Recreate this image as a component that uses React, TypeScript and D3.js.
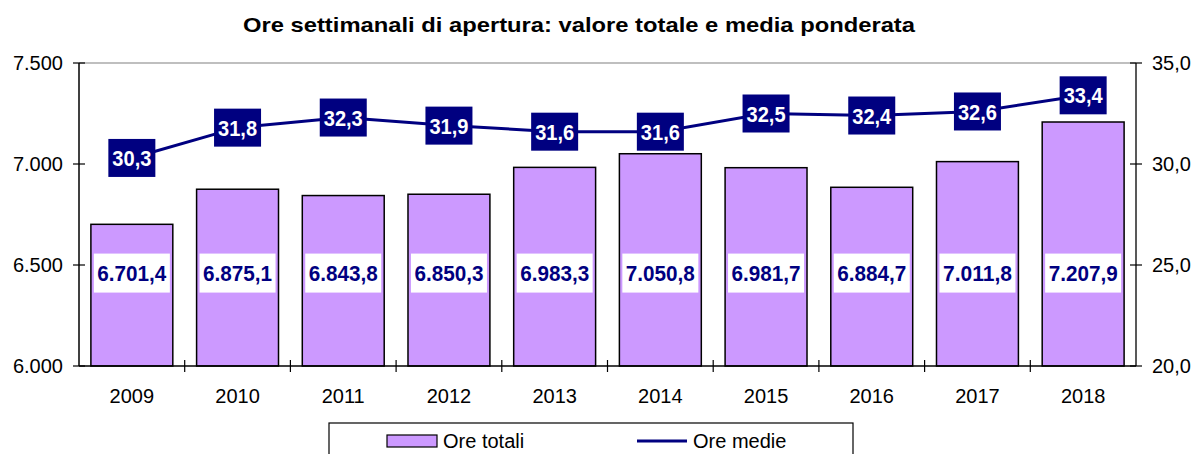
import React from "react";
import * as d3 from "d3";

const years = ["2009", "2010", "2011", "2012", "2013", "2014", "2015", "2016", "2017", "2018"];
const oreTotali = [6701.4, 6875.1, 6843.8, 6850.3, 6983.3, 7050.8, 6981.7, 6884.7, 7011.8, 7207.9];
const oreMedie = [30.3, 31.8, 32.3, 31.9, 31.6, 31.6, 32.5, 32.4, 32.6, 33.4];
const leftTicks = [6000, 6500, 7000, 7500];
const rightTicks = [20, 25, 30, 35];
const title = "Ore settimanali di apertura: valore totale e media ponderata";
const seriesNames = ["Ore totali", "Ore medie"];

const W = 1195;
const H = 454;
const M = { left: 79, right: 1136, top: 63, bottom: 366 };
const FONT = "'Liberation Sans', Arial, sans-serif";
const NAVY = "#000080";
const BAR = "#CC99FF";

const fmtIt = (v: number, dec: number) => {
  const s = v.toFixed(dec);
  const [i, d] = s.split(".");
  const ii = i.replace(/\B(?=(\d{3})+(?!\d))/g, ".");
  return d !== undefined ? `${ii},${d}` : ii;
};

export default function App() {
  const x = d3.scaleBand<string>().domain(years).range([M.left, M.right]).paddingInner(0.225).paddingOuter(0.1125);
  const xc = (y: string) => (x(y) as number) + x.bandwidth() / 2;
  const band = (M.right - M.left) / years.length;
  const yL = d3.scaleLinear().domain([6000, 7500]).range([M.bottom, M.top]);
  const yR = d3.scaleLinear().domain([20, 35]).range([M.bottom, M.top]);
  const line = d3
    .line<number>()
    .x((_, i) => xc(years[i]))
    .y((d) => yR(d));

  const labelValue = 6460;

  return (
    <svg width={W} height={H} style={{ position: "absolute", left: 0, top: 0, background: "#fff" }} fontFamily={FONT}>
      <text x={579} y={32} textAnchor="middle" fontSize={21} fontWeight="bold" textLength={672} lengthAdjust="spacingAndGlyphs">
        {title}
      </text>

      <line x1={M.left} x2={M.right} y1={M.top} y2={M.top} stroke="#808080" strokeWidth={1.2} />

      {years.map((yr, i) => (
        <rect
          key={yr}
          x={x(yr)}
          y={yL(oreTotali[i])}
          width={x.bandwidth()}
          height={M.bottom - yL(oreTotali[i])}
          fill={BAR}
          stroke="#000"
          strokeWidth={1.5}
        />
      ))}

      <line x1={M.left} x2={M.left} y1={M.top} y2={M.bottom} stroke="#000" strokeWidth={1.5} />
      <line x1={M.right} x2={M.right} y1={M.top} y2={M.bottom} stroke="#222" strokeWidth={1.5} />
      <line x1={M.left} x2={M.right} y1={M.bottom} y2={M.bottom} stroke="#000" strokeWidth={1.5} />

      {leftTicks.map((t) => (
        <g key={"l" + t}>
          <line x1={M.left - 6} x2={M.left + 6} y1={yL(t)} y2={yL(t)} stroke="#000" strokeWidth={1.2} />
          <text x={63} y={yL(t)} dy="0.36em" textAnchor="end" fontSize={20} fill="#000">
            {fmtIt(t, 0)}
          </text>
        </g>
      ))}
      {rightTicks.map((t) => (
        <g key={"r" + t}>
          <line x1={M.right - 6} x2={M.right + 6} y1={yR(t)} y2={yR(t)} stroke="#000" strokeWidth={1.2} />
          <text x={1152} y={yR(t)} dy="0.36em" textAnchor="start" fontSize={20} fill="#000">
            {fmtIt(t, 1)}
          </text>
        </g>
      ))}
      {years.map((yr, i) => (
        <g key={"x" + yr}>
          {i > 0 && (
            <line x1={M.left + band * i} x2={M.left + band * i} y1={M.bottom - 6} y2={M.bottom + 6} stroke="#000" strokeWidth={1.2} />
          )}
          <text x={xc(yr)} y={403} textAnchor="middle" fontSize={20} fill="#000">
            {yr}
          </text>
        </g>
      ))}

      {years.map((yr, i) => (
        <g key={"bl" + yr}>
          <rect x={xc(yr) - 38} y={yL(labelValue) - 19.5} width={76} height={39} fill="#fff" />
          <text
            x={xc(yr)}
            y={yL(labelValue)}
            dy="0.36em"
            textAnchor="middle"
            fontSize={22.5}
            fontWeight="bold"
            fill={NAVY}
            textLength={69}
            lengthAdjust="spacingAndGlyphs"
          >
            {fmtIt(oreTotali[i], 1)}
          </text>
        </g>
      ))}

      <path d={line(oreMedie) || ""} fill="none" stroke={NAVY} strokeWidth={3} />
      {years.map((yr, i) => (
        <g key={"ll" + yr}>
          <rect x={xc(yr) - 23.5} y={yR(oreMedie[i]) - 19} width={47} height={38} fill={NAVY} />
          <text
            x={xc(yr)}
            y={yR(oreMedie[i])}
            dy="0.36em"
            textAnchor="middle"
            fontSize={22.5}
            fontWeight="bold"
            fill="#fff"
            textLength={39}
            lengthAdjust="spacingAndGlyphs"
          >
            {fmtIt(oreMedie[i], 1)}
          </text>
        </g>
      ))}

      <rect x={329} y={423} width={524} height={40} fill="#fff" stroke="#000" strokeWidth={1.2} />
      <rect x={387} y={435} width={50} height={12} fill={BAR} stroke="#000" strokeWidth={1.2} />
      <text x={443} y={441} dy="0.36em" fontSize={20} fill="#000">
        {seriesNames[0]}
      </text>
      <line x1={637} x2={687} y1={441} y2={441} stroke={NAVY} strokeWidth={3} />
      <text x={693} y={441} dy="0.36em" fontSize={20} fill="#000">
        {seriesNames[1]}
      </text>
    </svg>
  );
}
